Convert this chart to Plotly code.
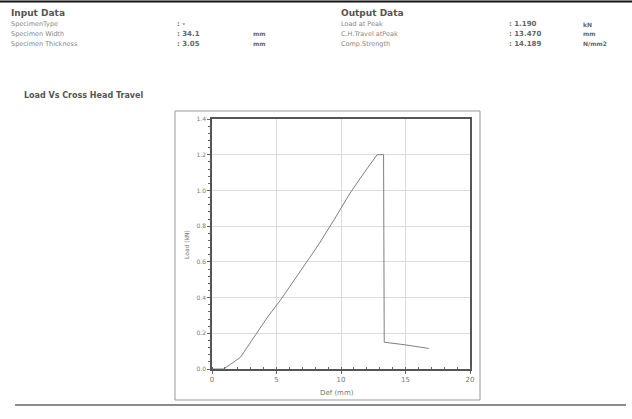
import plotly.graph_objects as go

# ---- data ----
defl_mm = [0, 0.9, 2.2, 3.3, 4.3, 5.3, 6.8, 8.2, 9.5, 10.7, 12.0, 12.8, 13.3, 13.35, 15.0, 16.8]
load_kn = [0, 0, 0.065, 0.18, 0.29, 0.385, 0.54, 0.69, 0.84, 0.985, 1.12, 1.2, 1.2, 0.15, 0.135, 0.115]

x_ticks = [0, 5, 10, 15, 20]
y_ticks = [0.0, 0.2, 0.4, 0.6, 0.8, 1.0, 1.2, 1.4]
y_tick_labels = ["0.0", "0.2", "0.4", "0.6", "0.8", "1.0", "1.2", "1.4"]

input_labels = ["SpecimenType", "Specimen Width", "Specimen Thickness"]
input_values = [": -", ": 34.1", ": 3.05"]
input_units = ["", "mm", "mm"]
output_labels = ["Load at Peak", "C.H.Travel atPeak", "Comp.Strength"]
output_values = [": 1.190", ": 13.470", ": 14.189"]
output_units = ["kN", "mm", "N/mm2"]

W, H = 632, 419
L, R, T, B = 212, 470, 119, 369


def px(x):
    return (x - L) / (R - L)


def py(y):
    return (B - y) / (B - T)


FONT = "DejaVu Sans"
GRAY = "#777"

fig = go.Figure()
fig.add_trace(go.Scatter(x=defl_mm, y=load_kn, mode="lines",
                         line=dict(color="#808080", width=1), showlegend=False))

ann = []
shapes = []


def txt(x, y, s, size=7, bold=False, color=GRAY, anchor="left"):
    ann.append(dict(x=px(x), y=py(y), xref="paper", yref="paper", text=("<b>%s</b>" % s) if bold else s,
                    showarrow=False, xanchor=anchor, yanchor="middle",
                    font=dict(family=FONT, size=size, color=color)))


txt(9, 13, "Input Data", size=9, bold=True, color="#555")
txt(339, 13, "Output Data", size=9, bold=True, color="#555")
rows_y = [24, 34, 44]
for i, yy in enumerate(rows_y):
    txt(9, yy, input_labels[i], size=6.5, color="#888")
    txt(175, yy, input_values[i], size=7, bold=True, color="#666")
    txt(251, yy, input_units[i], size=6, bold=True, color="#666")
    txt(339, yy, output_labels[i], size=6.5, color="#888")
    txt(507, yy, output_values[i], size=7, bold=True, color="#666")
    txt(581, yy, output_units[i], size=6, bold=True, color="#666")

txt(22, 96, "Load Vs Cross Head Travel", size=8, bold=True, color="#555")

# y axis title
ann.append(dict(x=px(186), y=py(245), xref="paper", yref="paper", text="Load (kN)", textangle=-90,
                showarrow=False, xanchor="center", yanchor="middle",
                font=dict(family=FONT, size=6, color=GRAY)))
txt(337, 393, "Def (mm)", size=7, anchor="center")

# page lines
shapes.append(dict(type="line", xref="paper", yref="paper", x0=px(0), x1=px(632), y0=py(1.5), y1=py(1.5),
                   line=dict(color="#111", width=2)))
shapes.append(dict(type="line", xref="paper", yref="paper", x0=px(15), x1=px(626), y0=py(405), y1=py(405),
                   line=dict(color="#666", width=1.5)))
# chart frame
shapes.append(dict(type="rect", xref="paper", yref="paper", x0=px(175), x1=px(480), y0=py(111), y1=py(400),
                   line=dict(color="#999", width=1)))

fig.update_layout(
    width=W, height=H,
    margin=dict(l=L, r=W - R, t=T, b=H - B),
    paper_bgcolor="white", plot_bgcolor="white",
    annotations=ann, shapes=shapes,
    font=dict(family=FONT, size=7, color=GRAY),
)
fig.update_xaxes(range=[0, 20], tickvals=x_ticks, showgrid=True, gridcolor="#dcdcdc", gridwidth=1,
                 showline=True, linecolor="#555", linewidth=1.5, mirror=True,
                 ticks="outside", ticklen=3, tickcolor="#666",
                 minor=dict(dtick=1, ticks="inside", ticklen=2, tickcolor="#666", showgrid=False),
                 zeroline=False, tickfont=dict(size=7, color=GRAY))
fig.update_yaxes(range=[0, 1.4], tickvals=y_ticks, ticktext=y_tick_labels, showgrid=True,
                 gridcolor="#dcdcdc", gridwidth=1,
                 showline=True, linecolor="#555", linewidth=1.5, mirror=True,
                 ticks="outside", ticklen=3, tickcolor="#666",
                 minor=dict(dtick=0.04, ticks="outside", ticklen=2, tickcolor="#666", showgrid=False),
                 zeroline=False, tickfont=dict(size=6, color=GRAY))

fig.write_html("out.html", config={"displayModeBar": False},
               post_script="document.body.style.margin='0';document.body.style.overflow='hidden';")
